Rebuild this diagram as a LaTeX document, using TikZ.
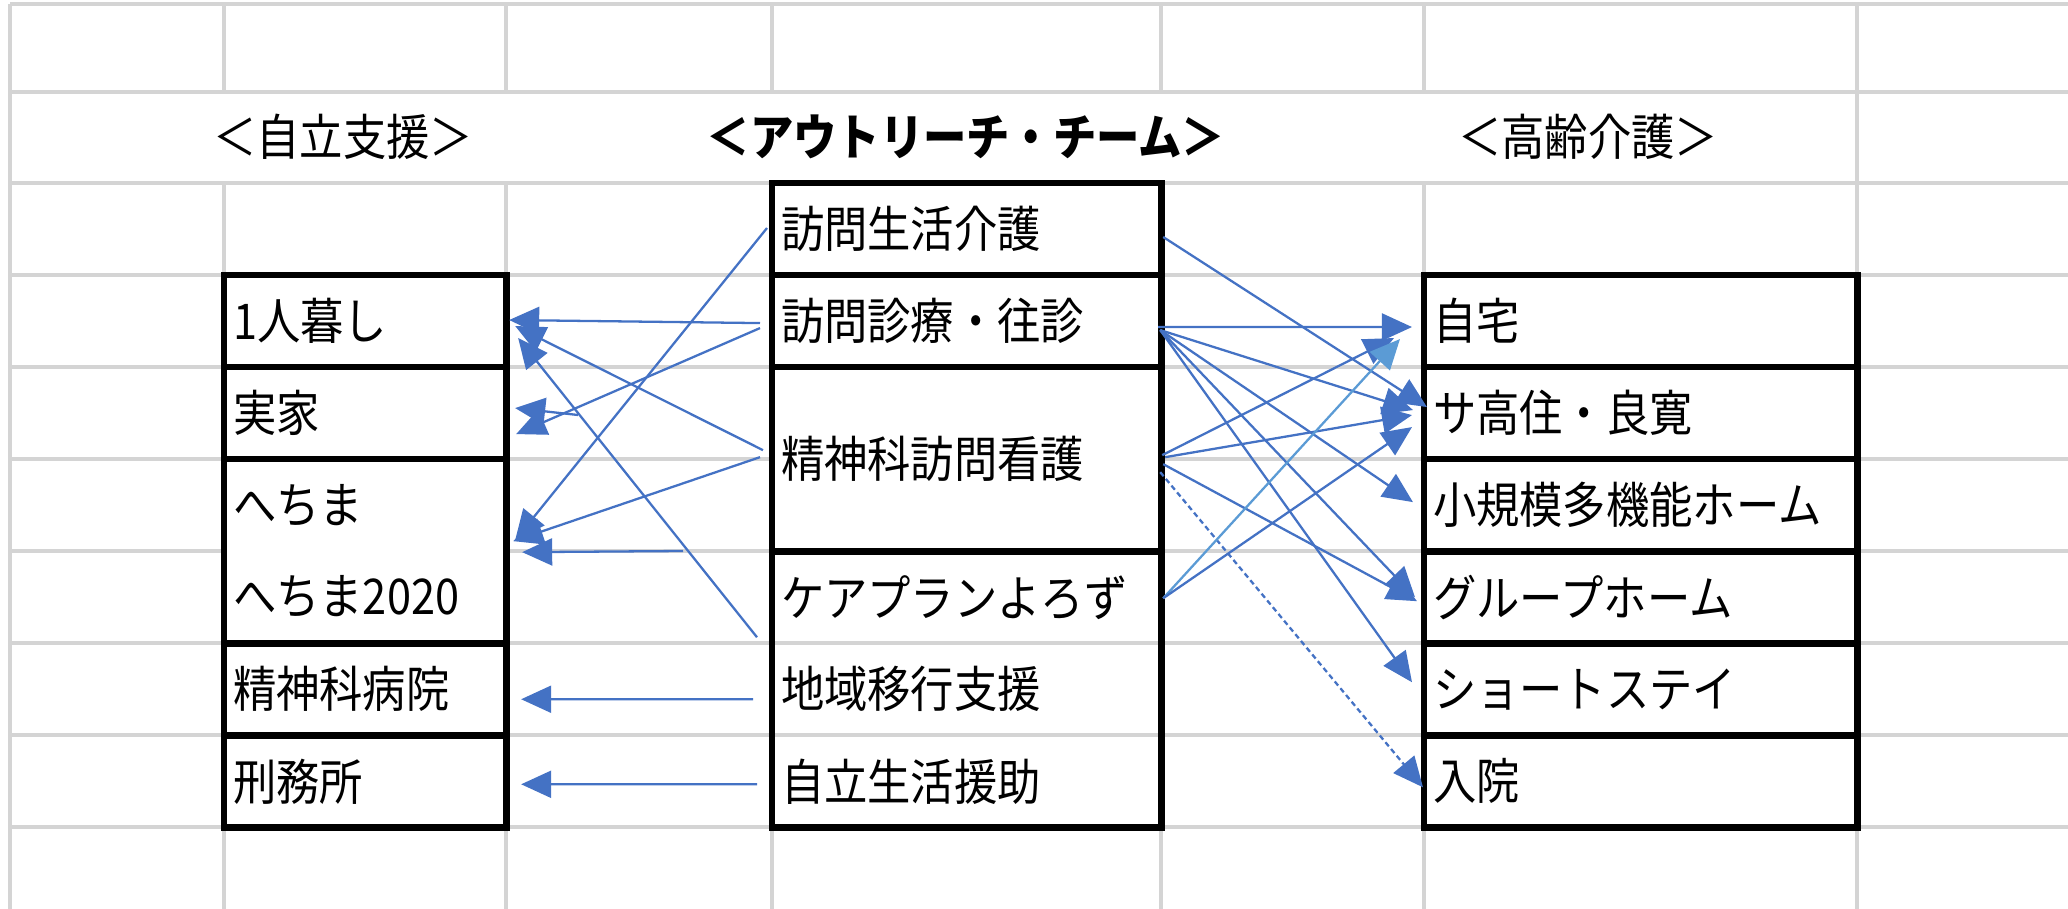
\documentclass[tikz,border=0pt]{standalone}
\usepackage{fontspec}
\newfontfamily\jp[FakeStretch=0.88]{Noto Sans CJK JP}
\usepackage{tikz}
\usetikzlibrary{arrows.meta,positioning}

\definecolor{blu}{HTML}{4472C4}
\definecolor{azzurro}{HTML}{5B9BD5}
\definecolor{grigio}{HTML}{D4D4D4}

\tikzset{
	griglia/.style={draw=grigio, line width=0.95pt},
	cella/.style={inner xsep=0.09cm, inner ysep=0pt, outer sep=0pt, align=left,
		minimum height=0.92cm, font=\jp\fontsize{14}{26.1}\selectfont},
	bordo/.style={cella, draw, fill=white, line width=1.9pt},
	sx/.style={text width=2.64cm},
	cx/.style={text width=3.71cm},
	dx/.style={text width=4.15cm},
	titolo/.style={inner sep=0pt, font=\jp\fontsize{14}{16}\selectfont},
	freccia/.style={->, draw=blu, line width=0.65pt}
}

\begin{document}
\begin{tikzpicture}[x=0.01cm, y=-0.01cm, >={Triangle[length=0.3cm,width=0.27cm]}]
		\useasboundingbox (0,0) rectangle (2068,909);
		% Griglia
		\draw [griglia] (10,4) -- (2068,4) (10,92) -- (2068,92) (10,183) -- (2068,183)
			(10,275) -- (2068,275) (10,367) -- (2068,367) (10,459) -- (2068,459)
			(10,551) -- (2068,551) (10,643) -- (2068,643) (10,735) -- (2068,735)
			(10,827) -- (2068,827);
		\draw [griglia] (10,4) -- (10,909) (1857,4) -- (1857,909)
			(224,4) -- (224,92) (506,4) -- (506,92) (772,4) -- (772,92)
			(1161,4) -- (1161,92) (1424,4) -- (1424,92)
			(224,183) -- (224,909) (506,183) -- (506,909) (772,183) -- (772,909)
			(1161,183) -- (1161,909) (1424,183) -- (1424,909);
		
		% Titoli
		\node [titolo] (tsx) at (343,137) {＜自立支援＞};
		\node [titolo, font=\jp\bfseries\fontsize{14}{16}\selectfont] (tcx) at (966,137) {＜アウトリーチ・チーム＞};
		\node [titolo] (tdx) at (1588,137) {＜高齢介護＞};
		
		% Colonna sinistra
		\node [bordo, sx, anchor=north west] (hitori) at (224,275) {1人暮し};
		\node [bordo, sx, below=0pt of hitori] (jikka) {実家};
		\node [bordo, sx, below=0pt of jikka, minimum height=1.84cm] (hechima) {へちま\\へちま2020};
		\node [bordo, sx, below=0pt of hechima] (byoin) {精神科病院};
		\node [bordo, sx, below=0pt of byoin] (keimusho) {刑務所};
		
		% Colonna centrale
		\node [bordo, cx, anchor=north west] (seikatsu) at (772,183) {訪問生活介護};
		\node [bordo, cx, below=0pt of seikatsu] (shinryo) {訪問診療・往診};
		\node [bordo, cx, below=0pt of shinryo, minimum height=1.84cm] (seishin) {精神科訪問看護};
		\node [cella, cx, below=0pt of seishin] (careplan) {ケアプランよろず};
		\node [cella, cx, below=0pt of careplan] (chiiki) {地域移行支援};
		\node [cella, cx, below=0pt of chiiki] (jiritsu) {自立生活援助};
		\draw [line width=1.9pt] (careplan.north west) rectangle (jiritsu.south east);
		
		% Colonna destra
		\node [bordo, dx, anchor=north west] (jitaku) at (1424,275) {自宅};
		\node [bordo, dx, below=0pt of jitaku] (sakoju) {サ高住・良寛};
		\node [bordo, dx, below=0pt of sakoju] (shokibo) {小規模多機能ホーム};
		\node [bordo, dx, below=0pt of shokibo] (group) {グループホーム};
		\node [bordo, dx, below=0pt of group] (short) {ショートステイ};
		\node [bordo, dx, below=0pt of short] (nyuin) {入院};
		
		% Frecce a sinistra
		\coordinate (c1) at (578,415);
		\coordinate (c2) at (683,551);
		\draw [freccia] ([shift={(-12,2)}]shinryo.west) -- ([shift={(3,-1)}]hitori.east);
		\draw [freccia] ([shift={(-12,7)}]shinryo.west) -- ([shift={(10,21)}]jikka.east);
		\draw [freccia] ([shift={(-9,-9)}]seishin.west) -- ([shift={(9,5)}]hitori.east);
		\draw [freccia] ([shift={(-15,-6)}]chiiki.north west) -- ([shift={(12,17)}]hitori.east);
		\draw [freccia] ([shift={(-5,-1)}]seikatsu.west) -- ([shift={(9,-11)}]hechima.east);
		\draw [freccia] ([shift={(-12,-2)}]seishin.west) -- ([shift={(7,-10)}]hechima.east);
		\draw [freccia] (c1) -- ([shift={(9,-5)}]jikka.east);
		\draw [freccia] (c2) -- ([shift={(16,1)}]hechima.east);
		\draw [freccia] ([shift={(-19,10)}]chiiki.west) -- ([shift={(15,10)}]byoin.east);
		\draw [freccia] ([shift={(-15,3)}]jiritsu.west) -- ([shift={(15,3)}]keimusho.east);
		
		% Frecce a destra
		\draw [freccia] ([shift={(2,8)}]seikatsu.east) -- ([shift={(3,-6)}]sakoju.west);
		\draw [freccia] ([shift={(-3,6)}]shinryo.east) -- ([shift={(-12,6)}]jitaku.west);
		\draw [freccia] ([shift={(-1,9)}]shinryo.east) -- ([shift={(-11,-3)}]sakoju.west);
		\draw [freccia] ([shift={(-1,9)}]shinryo.east) -- ([shift={(-11,-3)}]shokibo.west);
		\draw [freccia] ([shift={(-1,9)}]shinryo.east) -- ([shift={(-9,0)}]group.west);
		\draw [freccia] ([shift={(-1,9)}]shinryo.east) -- ([shift={(-12,-7)}]short.west);
		\draw [freccia] ([shift={(1,-4)}]seishin.east) -- ([shift={(-30,17)}]jitaku.west);
		\draw [freccia] ([shift={(4,-2)}]seishin.east) -- ([shift={(-12,2)}]sakoju.west);
		\draw [freccia] ([shift={(2,5)}]seishin.east) -- ([shift={(-7,4)}]group.west);
		\draw [freccia, dash pattern=on 1.5pt off 1pt] ([shift={(-1,13)}]seishin.east) -- ([shift={(-1,6)}]nyuin.west);
		\draw [freccia, draw=azzurro] ([shift={(2,1)}]careplan.east) -- ([shift={(-24,18)}]jitaku.west);
		\draw [freccia] ([shift={(2,1)}]careplan.east) -- ([shift={(-12,14)}]sakoju.west);
	\end{tikzpicture}
\end{document}
